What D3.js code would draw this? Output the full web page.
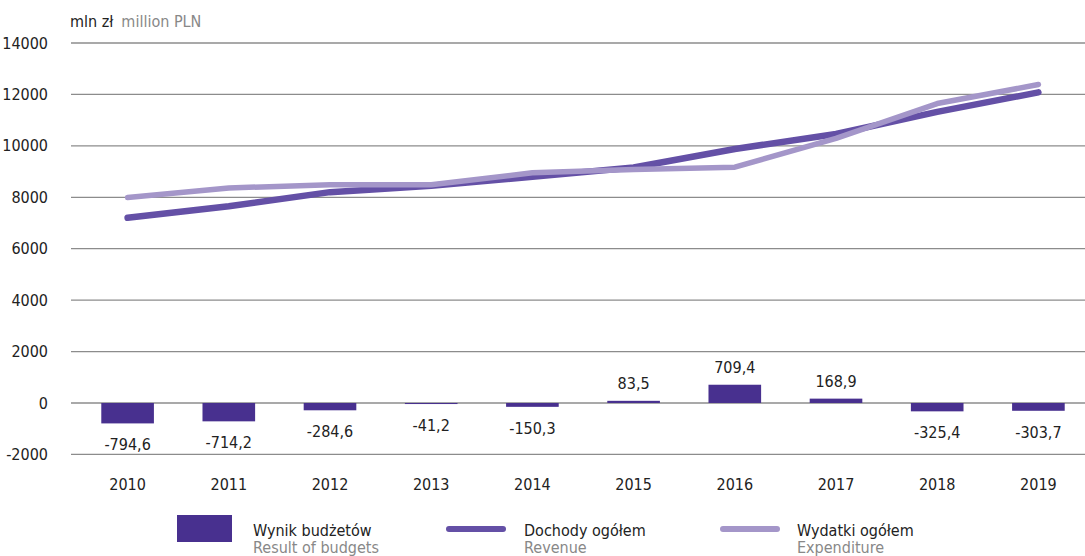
<!DOCTYPE html>
<html>
<head>
<meta charset="utf-8">
<script src="https://cdn.jsdelivr.net/npm/d3@7"></script>
<style>
  body { margin: 0; background: #fff; }
  text { font-family: "Liberation Sans Narrow", "DejaVu Sans Condensed", sans-serif; }
</style>
</head>
<body>
<div class="chart"></div>
<script>
// data
const years = ['2010', '2011', '2012', '2013', '2014', '2015', '2016', '2017', '2018', '2019'];
const result = [-794.6, -714.2, -284.6, -41.2, -150.3, 83.5, 709.4, 168.9, -325.4, -303.7];
const revenue = [7200, 7650, 8200, 8450, 8800, 9160, 9880, 10460, 11320, 12080];
const expenditure = [7995, 8364, 8485, 8491, 8950, 9077, 9171, 10291, 11645, 12384];
const yTicks = [-2000, 0, 2000, 4000, 6000, 8000, 10000, 12000, 14000];

const width = 1085, height = 556;
const svg = d3.select('.chart').append('svg')
    .attr('width', width).attr('height', height);

// scales
const x = d3.scaleBand().domain(years)
    .range([77, 1089]).paddingInner(0.48).paddingOuter(0.24);
const y = d3.scaleLinear().domain([-2000, 14000]).range([454.4, 43]);
const fmt = v => String(v).replace('.', ',');

// grid + y labels
const yAxis = d3.axisLeft(y).tickValues(yTicks).tickSize(0).tickFormat(d => d);
const yg = svg.append('g').attr('transform', 'translate(51,0)').call(yAxis);
yg.select('.domain').remove();
yg.selectAll('text').attr('font-size', 16).attr('fill', '#222').attr('dx', 0);

svg.append('g').selectAll('line').data(yTicks).enter().append('line')
    .attr('x1', 71).attr('x2', width)
    .attr('y1', d => y(d)).attr('y2', d => y(d))
    .attr('stroke', '#8c8c8c').attr('stroke-width', 1.3);

// unit
const unit = svg.append('text').attr('x', 70).attr('y', 27).attr('font-size', 16);
unit.append('tspan').text('mln zł').attr('fill', '#222');
unit.append('tspan').text('million PLN').attr('fill', '#888').attr('dx', 8);

// x labels
const xAxis = d3.axisBottom(x).tickSize(0);
const xg = svg.append('g').attr('transform', 'translate(0,476)').call(xAxis);
xg.select('.domain').remove();
xg.selectAll('text').attr('font-size', 16).attr('fill', '#222').attr('dy', '0.7em');

// bars
const barData = years.map((d, i) => ({ year: d, v: result[i] }));
svg.append('g').selectAll('rect').data(barData).enter().append('rect')
    .attr('x', d => x(d.year))
    .attr('y', d => y(Math.max(0, d.v)))
    .attr('width', x.bandwidth())
    .attr('height', d => Math.abs(y(d.v) - y(0)))
    .attr('fill', '#48308f');

svg.append('g').selectAll('text').data(barData).enter().append('text')
    .attr('x', d => x(d.year) + x.bandwidth() / 2)
    .attr('y', d => d.v < 0 ? y(d.v) + 27 : y(d.v) - 12)
    .attr('text-anchor', 'middle')
    .attr('font-size', 16).attr('fill', '#222')
    .text(d => fmt(d.v));

// lines
const cx = d => x(d) + x.bandwidth() / 2;
const line = d3.line().x(d => cx(d.year)).y(d => y(d.v));
svg.append('path')
    .datum(years.map((d, i) => ({ year: d, v: revenue[i] })))
    .attr('d', line).attr('fill', 'none')
    .attr('stroke', '#6450a6').attr('stroke-width', 6.5)
    .attr('stroke-linecap', 'round').attr('stroke-linejoin', 'round');
svg.append('path')
    .datum(years.map((d, i) => ({ year: d, v: expenditure[i] })))
    .attr('d', line).attr('fill', 'none')
    .attr('stroke', '#a496c9').attr('stroke-width', 5.5)
    .attr('stroke-linecap', 'round').attr('stroke-linejoin', 'round');

// legend
const legend = svg.append('g');
legend.append('rect').attr('x', 177).attr('y', 515).attr('width', 55).attr('height', 27).attr('fill', '#48308f');
legend.append('line').attr('x1', 449).attr('x2', 503).attr('y1', 529).attr('y2', 529)
    .attr('stroke', '#6450a6').attr('stroke-width', 6).attr('stroke-linecap', 'round');
legend.append('line').attr('x1', 723).attr('x2', 777).attr('y1', 529).attr('y2', 529)
    .attr('stroke', '#a496c9').attr('stroke-width', 6).attr('stroke-linecap', 'round');

const legItems = [
    { x: 253, pl: 'Wynik budżetów', en: 'Result of budgets' },
    { x: 524, pl: 'Dochody ogółem', en: 'Revenue' },
    { x: 797, pl: 'Wydatki ogółem', en: 'Expenditure' }
];
legItems.forEach(d => {
    legend.append('text').attr('x', d.x).attr('y', 536).attr('font-size', 16).attr('fill', '#222').text(d.pl);
    legend.append('text').attr('x', d.x).attr('y', 553).attr('font-size', 16).attr('fill', '#888').text(d.en);
});
</script>
</body>
</html>
